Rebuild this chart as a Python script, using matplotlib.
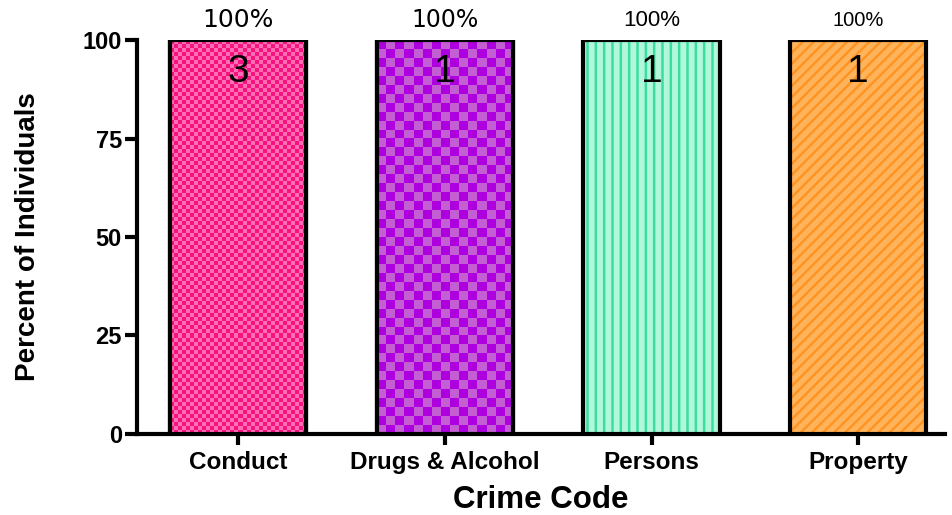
import numpy as np
import matplotlib
matplotlib.use("Agg")
import matplotlib.pyplot as plt
from matplotlib.colors import to_rgb
from matplotlib import font_manager

categories = ["Conduct", "Drugs & Alcohol", "Persons", "Property"]
percents = [100, 100, 100, 100]
counts = [3, 1, 1, 1]
pct_labels = ["100%", "100%", "100%", "100%"]

plt.rcParams['font.family'] = ['Liberation Sans', 'DejaVu Sans']
plt.rcParams['hatch.linewidth'] = 1.8

names = {f.name for f in font_manager.fontManager.ttflist}
narrow = 'Liberation Sans Narrow' if 'Liberation Sans Narrow' in names else 'Liberation Sans'

fig = plt.figure(figsize=(9.53, 5.15), dpi=100)
ax = fig.add_axes([0.1438, 0.1573, 0.8478, 0.765])

x = np.arange(len(categories))
base_colors = ["#F5147F", "#AE00DE", "#B2F7DC", "#FFB45C"]
hatch_colors = [None, None, "#3CDE9E", "#FF9422"]
hatches = [None, None, "||", "///"]

bars = ax.bar(x, percents, width=0.66, color=base_colors, edgecolor="black",
              linewidth=3.0, zorder=3)
ax.set_xlim(-0.49, 3.42)
ax.set_ylim(0, 100)

for b, h, hc in zip(bars, hatches, hatch_colors):
    if h:
        b.set_hatch(h)
        b.set_edgecolor(hc)
        b.set_linewidth(0)
        ax.bar(b.get_x() + b.get_width() / 2, b.get_height(), width=b.get_width(),
               fill=False, edgecolor="black", linewidth=3.0, zorder=4)

checker = {0: (4, "#F5147F", "#FF6DB2"), 1: (9, "#AE00DE", "#C35FD2")}
fig.canvas.draw()
for i, (cell, c1, c2) in checker.items():
    b = bars[i]
    x0, y0 = b.get_x(), 0
    x1, y1 = b.get_x() + b.get_width(), b.get_height()
    p0 = ax.transData.transform((x0, y0))
    p1 = ax.transData.transform((x1, y1))
    wpx, hpx = abs(p1[0] - p0[0]), abs(p1[1] - p0[1])
    nx, ny = int(round(wpx / cell)), int(round(hpx / cell))
    ii, jj = np.meshgrid(np.arange(nx), np.arange(ny))
    mask = (ii + jj) % 2 == 0
    img = np.zeros((ny, nx, 3))
    img[mask] = to_rgb(c1)
    img[~mask] = to_rgb(c2)
    im = ax.imshow(img, extent=(x0, x1, y0, y1), interpolation="nearest",
                   aspect="auto", zorder=3.5, origin="upper")
    im.set_clip_path(b)
    ax.bar(b.get_x() + b.get_width() / 2, b.get_height(), width=b.get_width(),
           fill=False, edgecolor="black", linewidth=3.0, zorder=4)

ax.set_xlim(-0.49, 3.42)
ax.set_ylim(0, 100)

pct_fonts = [(['DejaVu Sans'], 18), (['DejaVu Sans'], 17),
             (['Liberation Sans'], 16), (['Liberation Sans'], 14.5)]
cnt_fonts = [narrow, narrow, 'Liberation Sans', 'Liberation Sans']
for xi, p, c, lab, (pf, ps), cf in zip(x, percents, counts, pct_labels, pct_fonts, cnt_fonts):
    ax.text(xi, p + 5, lab, ha="center", va="center", fontsize=ps, family=pf,
            clip_on=False)
    ax.text(xi, p - 3.5, str(c), ha="center", va="top", fontsize=28,
            family=[cf, 'DejaVu Sans'], zorder=5)

ax.set_yticks([0, 25, 50, 75, 100])
ax.set_xticks(x)
ax.set_xticklabels(categories, fontsize=17.5, fontweight="bold")
for t in ax.get_yticklabels():
    t.set_fontsize(17)
    t.set_fontweight("bold")
ax.tick_params(axis="y", width=3, length=9, direction="out", pad=2)
ax.tick_params(axis="x", width=3, length=8, direction="out", pad=4)

for s in ["top", "right"]:
    ax.spines[s].set_visible(False)
for s in ["left", "bottom"]:
    ax.spines[s].set_linewidth(3)

ax.set_xlabel("Crime Code", fontsize=22.5, fontweight="bold", labelpad=8)
ax.set_ylabel("Percent of Individuals", fontsize=20, fontweight="bold", labelpad=30)

fig.savefig("out.png", dpi=100)
